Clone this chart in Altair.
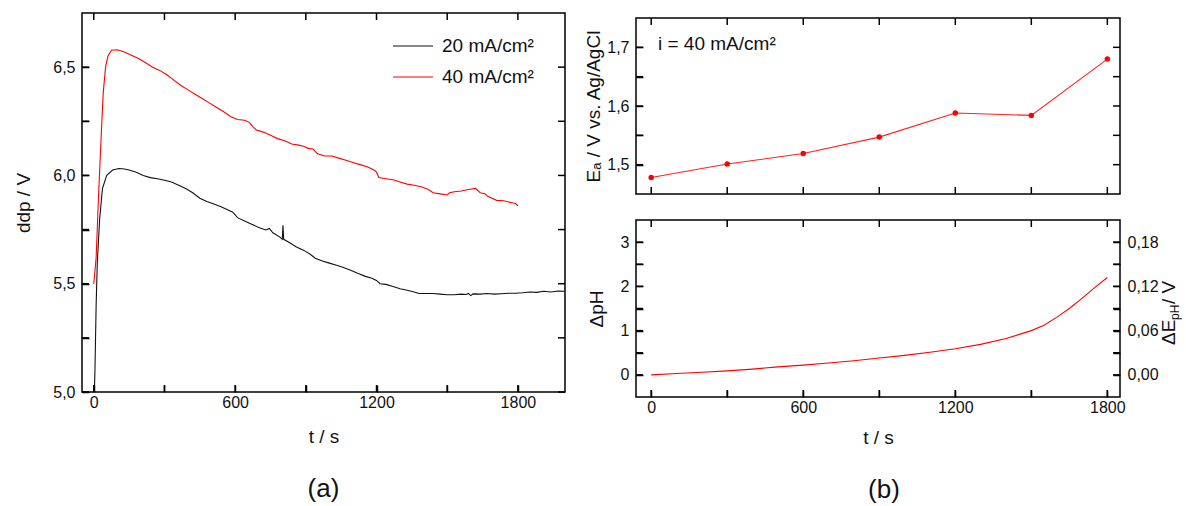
import altair as alt
import pandas as pd

FONT = "Liberation Sans"

# ---------------- panel (a): ddp vs time ----------------
series_names = ["20 mA/cm²", "40 mA/cm²"]
series_colors = ["#111111", "#ff0000"]

t_20 = [0, 5, 10, 15, 25, 37, 55, 80, 107, 130, 150, 180, 210, 240, 270, 300, 330, 360, 390, 420,
        450, 480, 510, 540, 570, 590, 610, 640, 670, 700, 730, 745, 760, 790, 800, 803, 806, 830, 860, 890,
        920, 940, 970, 1000, 1030, 1060, 1090, 1120, 1150, 1180, 1200, 1215, 1240, 1270, 1300, 1330, 1360, 1380, 1410, 1440,
        1470, 1500, 1530, 1560, 1580, 1590, 1600, 1610, 1640, 1670, 1700, 1730, 1760, 1790, 1820, 1850, 1880, 1910, 1940, 1970,
        2000]
ddp_20 = [4.9, 5.1, 5.4, 5.6, 5.8, 5.94, 6.0, 6.025, 6.032, 6.03, 6.025, 6.015, 6.0, 5.99, 5.985, 5.978, 5.97, 5.955, 5.94, 5.92,
          5.895, 5.88, 5.868, 5.855, 5.84, 5.83, 5.805, 5.79, 5.775, 5.76, 5.748, 5.755, 5.735, 5.715, 5.705, 5.77, 5.705, 5.69, 5.67, 5.655,
          5.635, 5.618, 5.605, 5.595, 5.585, 5.575, 5.562, 5.548, 5.535, 5.525, 5.515, 5.5, 5.497, 5.487, 5.477, 5.47, 5.462, 5.455, 5.455, 5.455,
          5.452, 5.449, 5.449, 5.452, 5.45, 5.455, 5.445, 5.453, 5.452, 5.455, 5.452, 5.454, 5.456, 5.456, 5.458, 5.462, 5.46, 5.465, 5.462, 5.466,
          5.465]

t_40 = [0, 10, 20, 30, 40, 50, 60, 75, 100, 130, 160, 190, 220, 250, 280, 310, 340, 370, 400, 430,
        460, 490, 520, 550, 580, 610, 640, 660, 675, 690, 720, 750, 780, 810, 840, 870, 890, 910, 930, 950,
        980, 1010, 1040, 1070, 1100, 1130, 1160, 1190, 1200, 1210, 1240, 1270, 1300, 1330, 1360, 1390, 1420, 1440, 1470, 1500,
        1510, 1530, 1560, 1590, 1620, 1640, 1660, 1670, 1690, 1710, 1740, 1770, 1790, 1800]
ddp_40 = [5.5, 5.62, 5.9, 6.15, 6.38, 6.5, 6.55, 6.578, 6.58, 6.57, 6.555, 6.54, 6.52, 6.5, 6.485, 6.465, 6.44, 6.415, 6.395, 6.375,
          6.355, 6.335, 6.315, 6.295, 6.272, 6.258, 6.255, 6.245, 6.225, 6.21, 6.2, 6.185, 6.17, 6.16, 6.145, 6.14, 6.135, 6.125, 6.122, 6.1,
          6.09, 6.09, 6.08, 6.07, 6.06, 6.05, 6.04, 6.025, 6.015, 5.99, 5.985, 5.98, 5.97, 5.96, 5.955, 5.948, 5.935, 5.92, 5.915, 5.91,
          5.92, 5.925, 5.928, 5.935, 5.94, 5.92, 5.915, 5.905, 5.895, 5.885, 5.883, 5.875, 5.87, 5.86]

# ---------------- panel (b) top: Ea vs time ----------------
t_ea = [0, 300, 600, 900, 1200, 1500, 1800]
ea = [1.478, 1.501, 1.519, 1.547, 1.588, 1.584, 1.680]
annotation = "i = 40 mA/cm²"

# ---------------- panel (b) bottom: delta pH vs time ----------------
t_ph = [0, 100, 200, 300, 400, 500, 600, 700, 800, 900, 1000, 1100, 1200, 1300, 1400, 1500,
        1550, 1600, 1650, 1700, 1750, 1800]
dph = [0.0, 0.03, 0.06, 0.09, 0.13, 0.18, 0.22, 0.27, 0.32, 0.38, 0.44, 0.51, 0.59, 0.69, 0.82, 1.0,
       1.12, 1.3, 1.5, 1.73, 1.97, 2.2]
volts_per_ph = 0.06

# tick values
x_ticks = [0, 300, 600, 900, 1200, 1500, 1800]
ddp_ticks = [5.0, 5.25, 5.5, 5.75, 6.0, 6.25, 6.5]
ea_ticks = [1.5, 1.55, 1.6, 1.65, 1.7]
ph_ticks = [0, 0.5, 1, 1.5, 2, 2.5, 3]
de_ticks = [0, 0.03, 0.06, 0.09, 0.12, 0.15, 0.18]

TICK = 7
W_A, H_A = 483, 379
W_B, H_T, H_B = 484, 176, 177
LAB_FS, TITLE_FS = 16, 19

x_lab = "datum.value % 600 === 0 ? format(datum.value, 'd') : ''"

df_a = pd.concat([
    pd.DataFrame({"t": t_20, "ddp": ddp_20, "series": series_names[0]}),
    pd.DataFrame({"t": t_40, "ddp": ddp_40, "series": series_names[1]}),
])
df_ea = pd.DataFrame({"t": t_ea, "ea": ea})
df_ph = pd.DataFrame({"t": t_ph, "dph": dph})
df_ph["dE"] = df_ph["dph"] * volts_per_ph

xs_a = alt.Scale(domain=[-50, 2000], nice=False, zero=False)
ys_a = alt.Scale(domain=[5.0, 6.75], nice=False, zero=False)
xs_b = alt.Scale(domain=[-60, 1850], nice=False, zero=False)


def inward_ticks(xs, ys, xv, yv, W, H, ys_r=None, yv_r=None, y_indep=False):
    """Inward-pointing tick marks on all four sides, placed through the panel's scales.
    x axes are shared with the main layer, so no axis is declared here (the main one wins)."""
    ys_r = ys if ys_r is None else ys_r
    yv_r = yv if yv_r is None else yv_r
    st = dict(color="black", strokeWidth=1.5)
    dx = pd.DataFrame({"v": xv})
    dy = pd.DataFrame({"v": yv})
    dyr = pd.DataFrame({"v": yv_r})
    yk = {"axis": None} if y_indep else {}
    return [
        alt.Chart(dx).mark_rule(**st).encode(x=alt.X("v:Q", scale=xs),
                                            y=alt.value(H), y2=alt.value(H - TICK)),
        alt.Chart(dx).mark_rule(**st).encode(x=alt.X("v:Q", scale=xs),
                                            y=alt.value(0), y2=alt.value(TICK)),
        alt.Chart(dy).mark_rule(**st).encode(y=alt.Y("v:Q", scale=ys, **yk),
                                            x=alt.value(0), x2=alt.value(TICK)),
        alt.Chart(dyr).mark_rule(**st).encode(y=alt.Y("v:Q", scale=ys_r, **yk),
                                             x=alt.value(W), x2=alt.value(W - TICK)),
    ]


# ---- left panel ----
lines_a = alt.Chart(df_a).mark_line(strokeWidth=1.1, clip=True).encode(
    x=alt.X("t:Q", scale=xs_a, axis=alt.Axis(
        orient="bottom", offset=-TICK, values=x_ticks, labelExpr=x_lab, labelPadding=2,
        title="t / s", titleX=W_A / 2, titleY=51, titleBaseline="middle")),
    y=alt.Y("ddp:Q", scale=ys_a, axis=alt.Axis(
        orient="left", offset=-TICK, values=ddp_ticks,
        labelExpr="(datum.value * 2) % 1 === 0 ? replace(format(datum.value, '.1f'), '.', ',') : ''",
        labelPadding=7, title="ddp / V", titleX=-66, titleY=H_A / 2, titleBaseline="middle")),
    color=alt.Color("series:N", scale=alt.Scale(domain=series_names, range=series_colors),
                    legend=alt.Legend(title=None, orient="none", legendX=310, legendY=12,
                                      symbolType="stroke", symbolSize=1600, symbolStrokeWidth=1.2,
                                      labelFontSize=19, labelFont=FONT, labelColor="#111",
                                      labelOffset=8, rowPadding=0, padding=0)),
    detail="series:N",
)
label_a = alt.Chart(pd.DataFrame({"lab": ["(a)"]})).mark_text(
    font=FONT, fontSize=26, color="#111", baseline="middle", align="center").encode(
    text="lab:N", x=alt.value(W_A / 2), y=alt.value(H_A + 97))
left = alt.layer(lines_a, *inward_ticks(xs_a, ys_a, x_ticks, ddp_ticks, W_A, H_A), label_a).properties(
    width=W_A, height=H_A)

# ---- right top panel ----
ys_ea = alt.Scale(domain=[1.45, 1.75], nice=False, zero=False)
line_ea = alt.Chart(df_ea).mark_line(color="#ff2020", strokeWidth=1.1).encode(
    x=alt.X("t:Q", scale=xs_b, axis=None),
    y=alt.Y("ea:Q", scale=ys_ea, axis=alt.Axis(
        orient="left", offset=-TICK, values=ea_ticks,
        labelExpr="round(datum.value * 100) % 10 === 0 ? replace(format(datum.value, '.1f'), '.', ',') : ''",
        labelPadding=7, title="Eₐ / V vs. Ag/AgCl", titleX=-50, titleY=H_T / 2, titleBaseline="middle")),
)
pts_ea = alt.Chart(df_ea).mark_point(color="#ff0000", filled=True, opacity=1, size=30).encode(
    x=alt.X("t:Q", scale=xs_b), y=alt.Y("ea:Q", scale=ys_ea))
annot = alt.Chart(pd.DataFrame({"lab": [annotation]})).mark_text(
    font=FONT, fontSize=19, color="#111", align="left", baseline="middle").encode(
    text="lab:N", x=alt.value(22), y=alt.value(26))
top_right = alt.layer(line_ea, pts_ea, *inward_ticks(xs_b, ys_ea, x_ticks, ea_ticks, W_B, H_T), annot).properties(
    width=W_B, height=H_T)

# ---- right bottom panel ----
ys_ph = alt.Scale(domain=[-0.5, 3.5], nice=False, zero=False)
ys_de = alt.Scale(domain=[-0.03, 0.21], nice=False, zero=False)
line_ph = alt.Chart(df_ph).mark_line(color="#ff0000", strokeWidth=1.1).encode(
    x=alt.X("t:Q", scale=xs_b, axis=alt.Axis(
        orient="bottom", offset=-TICK, values=x_ticks, labelExpr=x_lab, labelPadding=2,
        title="t / s", titleX=W_B / 2, titleY=47, titleBaseline="middle")),
    y=alt.Y("dph:Q", scale=ys_ph, axis=alt.Axis(
        orient="left", offset=-TICK, values=ph_ticks,
        labelExpr="datum.value % 1 === 0 ? format(datum.value, 'd') : ''",
        labelPadding=7, title="ΔpH", titleX=-47, titleY=H_B / 2, titleBaseline="middle")),
)
right_de = alt.Chart(df_ph).mark_point(opacity=0).encode(
    x=alt.X("t:Q", scale=xs_b),
    y=alt.Y("dE:Q", scale=ys_de, axis=alt.Axis(
        orient="right", offset=-TICK, values=de_ticks,
        labelExpr="round(datum.value * 100) % 6 === 0 ? replace(format(datum.value, '.2f'), '.', ',') : ''",
        labelPadding=7, title=None)),
)
# right-axis title "ΔE_pH / V" (with a real subscript), drawn as rotated text pieces
rot = dict(font=FONT, color="#111", angle=270, align="left", baseline="alphabetic")
de_t1 = alt.Chart(pd.DataFrame({"lab": ["ΔE"]})).mark_text(fontSize=19, **rot).encode(
    text="lab:N", x=alt.value(539), y=alt.value(125))
de_t2 = alt.Chart(pd.DataFrame({"lab": ["pH"]})).mark_text(fontSize=12, **rot).encode(
    text="lab:N", x=alt.value(543), y=alt.value(100))
de_t3 = alt.Chart(pd.DataFrame({"lab": [" / V"]})).mark_text(fontSize=19, **rot).encode(
    text="lab:N", x=alt.value(539), y=alt.value(84))
label_b = alt.Chart(pd.DataFrame({"lab": ["(b)"]})).mark_text(
    font=FONT, fontSize=26, color="#111", baseline="middle", align="center").encode(
    text="lab:N", x=alt.value(W_B / 2 + 6), y=alt.value(H_B + 93))
bottom_right = alt.layer(
    line_ph, right_de,
    *inward_ticks(xs_b, ys_ph, x_ticks, ph_ticks, W_B, H_B, ys_de, de_ticks, y_indep=True),
    de_t1, de_t2, de_t3, label_b,
).resolve_scale(y="independent").properties(width=W_B, height=H_B)

# tiny invisible view that pushes the right column a few px below the left panel's top
spacer = alt.Chart(pd.DataFrame({"a": [0]}), view=alt.ViewBackground(strokeOpacity=0)).mark_rule(
    opacity=0).encode(x=alt.value(0), y=alt.value(0), y2=alt.value(1)).properties(width=1, height=1)

right_col = alt.vconcat(alt.vconcat(spacer, top_right, spacing=2), bottom_right, spacing=22)

chart = alt.hconcat(left, right_col, spacing=16).properties(
    padding={"left": 13, "top": 11, "right": 0, "bottom": 3}
).configure_view(stroke="black", strokeWidth=1.5).configure_axis(
    labelFont=FONT, titleFont=FONT, labelFontSize=LAB_FS, titleFontSize=TITLE_FS, titleFontWeight="normal",
    labelColor="#111", titleColor="#111", tickColor="black", tickWidth=1.5, tickSize=TICK,
    grid=False, domain=False, labelOverlap=False, labelFlush=False, zindex=0,
)

chart.save("out.html", embed_options={"renderer": "svg", "actions": False})
